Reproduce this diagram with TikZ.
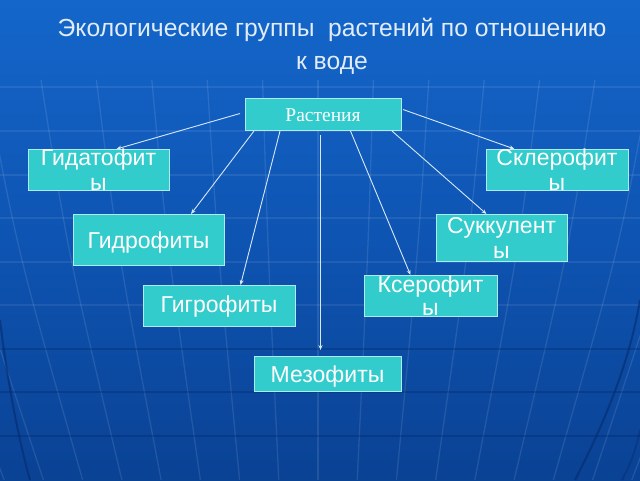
\documentclass[tikz,border=0pt]{standalone}
\usepackage{fontspec}
\setmainfont{Liberation Sans}
\newfontfamily\serifcyr{Liberation Serif}
\usetikzlibrary{arrows.meta}
\definecolor{bgtop}{RGB}{20,102,202}
\definecolor{bgmid}{RGB}{14,84,178}
\definecolor{bgbot}{RGB}{10,66,148}
\definecolor{boxfill}{RGB}{51,204,204}
\definecolor{boxedge}{RGB}{175,236,242}
\definecolor{arrcol}{RGB}{215,232,248}
\definecolor{titlecol}{RGB}{226,236,248}
\definecolor{darkarc}{RGB}{6,40,105}
\tikzset{
  box/.style={draw=boxedge, line width=1pt, fill=boxfill, inner sep=0pt, anchor=north west},
  lbl/.style={text=white, inner sep=0pt, anchor=base, font=\fontsize{23}{26}\selectfont},
  ttl/.style={text=titlecol, inner sep=0pt, anchor=base, font=\fontsize{24.7}{28}\selectfont},
  arr/.style={draw=arrcol, line width=0.9pt, -{Stealth[length=5pt,width=4pt]}},
  merid/.style={draw=white, opacity=0.10, line width=1.3pt},
  latlight/.style={draw=white, opacity=0.08, line width=1.3pt},
  latdark/.style={draw=darkarc, opacity=0.35, line width=1.3pt},
  outline/.style={draw=darkarc, opacity=0.55, line width=2pt}
}
\begin{document}
\begin{tikzpicture}[x=1pt,y=-1pt]
\useasboundingbox (0,0) rectangle (640,480);
\fill[top color=bgtop, bottom color=bgbot, middle color=bgmid] (0,0) rectangle (640,480);
\begin{scope}
\clip (0,0) rectangle (640,480);
% meridians
\foreach \k in {-8,...,8} {
  \draw[merid] ({318+\k*0.040435*1370},80) .. controls ({318+\k*0.040435*1240},250) .. ({318+\k*0.040435*970},480);
}
% latitude lines
\foreach \yy in {87,131,175,218,262,305} {
  \draw[latlight] (0,\yy) -- (640,\yy);
}
\foreach \yy in {349,392,436} {
  \draw[latdark] (0,\yy) -- (640,\yy);
}
% globe outline arcs
\draw[outline] (0,320) .. controls (6,370) and (16,430) .. (30,480);
\draw[outline] (640,300) .. controls (630,360) and (606,420) .. (575,480);
\draw[outline, opacity=0.35] (640,430) .. controls (636,450) and (630,465) .. (622,480);
\end{scope}

% title
\node[ttl] (t1) at (332,36) {Экологические группы~ растений по отношению};
\node[ttl] (t2) at (332,69.5) {к воде};

% boxes
\node[box, minimum width=156pt, minimum height=32pt] (R) at (245,98) {};
\node[box, minimum width=141pt, minimum height=41pt] (gidat) at (28,149) {};
\node[box, minimum width=142pt, minimum height=41pt] (sklero) at (486,149) {};
\node[box, minimum width=151pt, minimum height=51pt] (gidro) at (73,214) {};
\node[box, minimum width=131pt, minimum height=47pt] (sukk) at (436,214) {};
\node[box, minimum width=152pt, minimum height=41pt] (gigro) at (143,285) {};
\node[box, minimum width=133pt, minimum height=41pt] (ksero) at (364,275) {};
\node[box, minimum width=147pt, minimum height=35pt] (mezo) at (254,356) {};

% labels
\node[text=white, inner sep=0pt, anchor=base, font=\serifcyr\fontsize{19.5}{22}\selectfont] (Rl) at (323,121) {Растения};
\node[lbl] (gidat1) at (98.5,165) {Гидатофит};
\node[lbl] (gidat2) at (98.5,190) {ы};
\node[lbl] (sklero1) at (557,165) {Склерофит};
\node[lbl] (sklero2) at (557,190) {ы};
\node[lbl] (gidrol) at (148.5,248) {Гидрофиты};
\node[lbl] (sukk1) at (501.5,233) {Суккулент};
\node[lbl] (sukk2) at (501.5,258) {ы};
\node[lbl] (gigrol) at (219,312) {Гигрофиты};
\node[lbl] (ksero1) at (430.5,292) {Ксерофит};
\node[lbl] (ksero2) at (430.5,315) {ы};
\node[lbl] (mezol) at (327.5,382) {Мезофиты};

% connectors
\draw[arr] ([xshift=-5pt,yshift=1pt]R.west) -- ([xshift=17.5pt]gidat.north);
\draw[arr] ([xshift=9pt]R.south west) -- ([xshift=-34pt]gidro.north east);
\draw[arr] ([xshift=35pt]R.south west) -- ([xshift=21pt]gigro.north);
\draw[arr] ([xshift=-3pt,yshift=-4pt]R.south) -- ([xshift=-7.5pt,yshift=6pt]mezo.north);
\draw[arr] ([xshift=27pt]R.south) -- ([xshift=-20.5pt]ksero.north);
\draw[arr] ([xshift=-10pt]R.south east) -- ([xshift=-15.5pt]sukk.north);
\draw[arr] ([xshift=1pt,yshift=5pt]R.east) -- ([xshift=-43pt]sklero.north);
\end{tikzpicture}
\end{document}
